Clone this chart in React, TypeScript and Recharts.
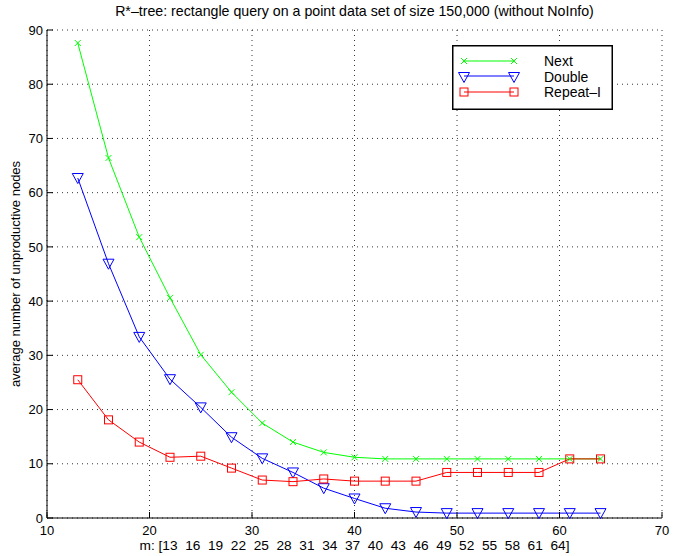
import React from 'react';
import { LineChart, Line, XAxis, YAxis, CartesianGrid } from 'recharts';

const mValues = [13, 16, 19, 22, 25, 28, 31, 34, 37, 40, 43, 46, 49, 52, 55, 58, 61, 64];
const nextValues = [87.6, 66.4, 51.8, 40.6, 30.1, 23.2, 17.5, 14.0, 12.1, 11.2, 10.9, 10.9, 10.9, 10.9, 10.9, 10.9, 10.9, 10.9];
const doubleValues = [62.7, 46.9, 33.4, 25.6, 20.4, 14.9, 11.0, 8.4, 5.5, 3.6, 1.8, 1.1, 0.9, 0.9, 0.9, 0.9, 0.9, 0.9];
const repeatValues = [25.5, 18.1, 14.0, 11.2, 11.4, 9.2, 7.0, 6.7, 7.2, 6.8, 6.8, 6.8, 8.4, 8.4, 8.4, 8.4, 10.9, 10.9];
const xTicks = [10, 20, 30, 40, 50, 60, 70];
const yTicks = [0, 10, 20, 30, 40, 50, 60, 70, 80, 90];

const data = mValues.map((m, i) => ({
  m,
  next: nextValues[i],
  double: doubleValues[i],
  repeat: repeatValues[i],
}));

const FONT = '"Liberation Sans", Arial, Helvetica, sans-serif';
const GREEN = '#00ff00';
const BLUE = '#0000ff';
const RED = '#ff0000';

const crossDot = (props: any) => {
  const { cx, cy, key } = props;
  return (
    <g key={key}>
      <line x1={cx - 3} y1={cy - 3} x2={cx + 3} y2={cy + 3} stroke={GREEN} strokeWidth={1} />
      <line x1={cx - 3} y1={cy + 3} x2={cx + 3} y2={cy - 3} stroke={GREEN} strokeWidth={1} />
    </g>
  );
};

const triangleDot = (props: any) => {
  const { cx, cy, key } = props;
  return (
    <polygon
      key={key}
      points={`${cx - 5.5},${cy - 4.5} ${cx + 5.5},${cy - 4.5} ${cx},${cy + 5.5}`}
      fill="none"
      stroke={BLUE}
      strokeWidth={1}
    />
  );
};

const squareDot = (props: any) => {
  const { cx, cy, key } = props;
  return <rect key={key} x={cx - 4} y={cy - 4} width={8} height={8} fill="none" stroke={RED} strokeWidth={1} />;
};

const LegendBox = () => (
  <svg width={161} height={65} style={{ display: 'block' }}>
    <rect x={0.75} y={0.75} width={159.5} height={63.5} fill="#fff" stroke="#000" strokeWidth={1.5} />
    <line x1={12} y1={16} x2={62} y2={16} stroke={GREEN} />
    {crossDot({ cx: 12, cy: 16 })}
    {crossDot({ cx: 62, cy: 16 })}
    <text x={92} y={21} fontSize={14} fontFamily={FONT}>Next</text>
    <line x1={12} y1={31} x2={62} y2={31} stroke={BLUE} />
    {triangleDot({ cx: 12, cy: 32 })}
    {triangleDot({ cx: 62, cy: 32 })}
    <text x={92} y={37} fontSize={14} fontFamily={FONT}>Double</text>
    <line x1={12} y1={47} x2={62} y2={47} stroke={RED} />
    {squareDot({ cx: 12, cy: 47 })}
    {squareDot({ cx: 62, cy: 47 })}
    <text x={92} y={52} fontSize={14} fontFamily={FONT}>Repeat–I</text>
  </svg>
);

const xLabel = 'm: [13  16  19  22  25  28  31  34  37  40  43  46  49  52  55  58  61  64]';

export default function App() {
  const tickStyle = { fill: '#000', fontSize: 13, fontFamily: FONT };
  return (
    <div style={{ position: 'absolute', left: 0, top: 0, width: 673, height: 556, background: '#fff' }}>
      <LineChart width={673} height={556} data={data} margin={{ top: 30, right: 11, left: 7, bottom: 18 }}>
        <CartesianGrid
          xAxisId="b"
          yAxisId="l"
          stroke="#000"
          strokeDasharray="1 4"
          strokeWidth={0.8}
          horizontalValues={yTicks}
          verticalValues={xTicks}
        />
        <XAxis
          xAxisId="b"
          type="number"
          dataKey="m"
          domain={[10, 70]}
          ticks={xTicks}
          height={20}
          tickSize={-6}
          tickMargin={14}
          stroke="#000"
          tick={tickStyle}
        />
        <XAxis
          xAxisId="t"
          orientation="top"
          type="number"
          dataKey="m"
          domain={[10, 70]}
          ticks={xTicks}
          height={0}
          tickSize={-6}
          tickFormatter={() => ''}
          stroke="#000"
        />
        <YAxis
          yAxisId="l"
          domain={[0, 90]}
          ticks={yTicks}
          width={40}
          tickSize={-6}
          tickMargin={10}
          stroke="#000"
          tick={tickStyle}
        />
        <YAxis
          yAxisId="r"
          orientation="right"
          domain={[0, 90]}
          ticks={yTicks}
          width={0}
          tickSize={-6}
          tickFormatter={() => ''}
          stroke="#000"
        />
        <Line xAxisId="t" yAxisId="r" dataKey="next" stroke="none" dot={false} activeDot={false} legendType="none" isAnimationActive={false} />
        <Line xAxisId="b" yAxisId="l" type="linear" dataKey="next" stroke={GREEN} strokeWidth={1} dot={crossDot} isAnimationActive={false} />
        <Line xAxisId="b" yAxisId="l" type="linear" dataKey="double" stroke={BLUE} strokeWidth={1} dot={triangleDot} isAnimationActive={false} />
        <Line xAxisId="b" yAxisId="l" type="linear" dataKey="repeat" stroke={RED} strokeWidth={1} dot={squareDot} isAnimationActive={false} />
      </LineChart>
      <div
        style={{
          position: 'absolute',
          left: 47,
          width: 615,
          top: 3,
          textAlign: 'center',
          fontSize: 14.2,
          fontFamily: FONT,
        }}
      >
        R*–tree: rectangle query on a point data set of size 150,000 (without NoInfo)
      </div>
      <div
        style={{
          position: 'absolute',
          left: 47,
          top: 538,
          width: 615,
          textAlign: 'center',
          fontSize: 13.7,
          lineHeight: '15px',
          fontFamily: FONT,
          whiteSpace: 'pre',
        }}
      >
        {xLabel}
      </div>
      <div
        style={{
          position: 'absolute',
          left: 15,
          top: 274,
          transform: 'translate(-50%, -50%) rotate(-90deg)',
          whiteSpace: 'nowrap',
          fontSize: 13,
          fontFamily: FONT,
        }}
      >
        average number of unproductive nodes
      </div>
      <div style={{ position: 'absolute', left: 452, top: 45 }}>
        <LegendBox />
      </div>
    </div>
  );
}
